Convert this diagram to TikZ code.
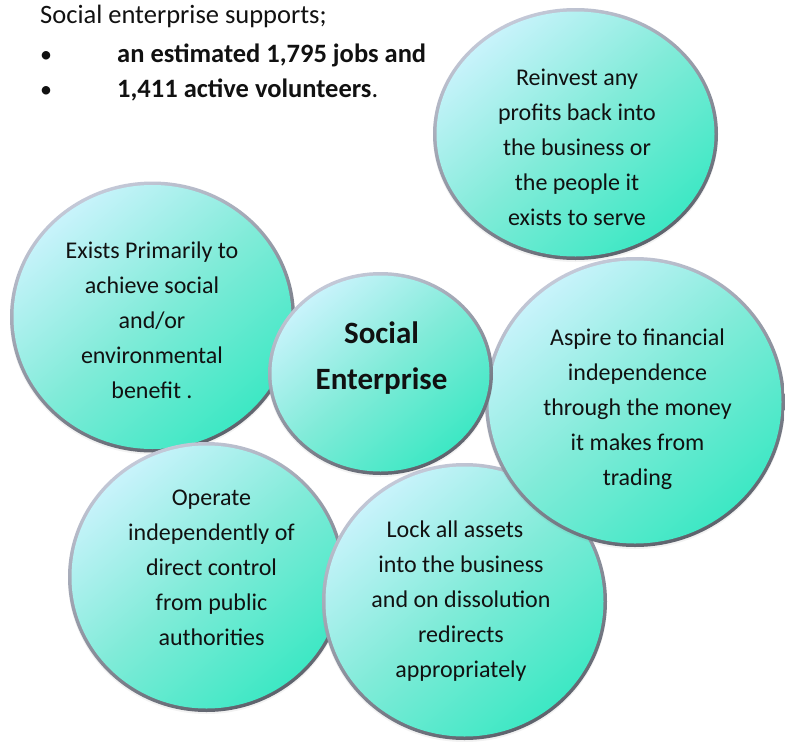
\documentclass[tikz,border=0pt]{standalone}
\usepackage{fontspec}
\setmainfont{Carlito}
\usetikzlibrary{shapes.geometric,shadows}
\definecolor{bubbleLight}{HTML}{C8F3FB}
\definecolor{bubbleMid}{HTML}{80EBD8}
\definecolor{bubbleDark}{HTML}{3DE8C4}
\definecolor{rimLight}{HTML}{C4C9D8}
\definecolor{rimDark}{HTML}{5E626C}
\definecolor{txt}{HTML}{111111}
\tikzset{
  rim/.style={ellipse, inner sep=0pt, top color=rimLight, bottom color=rimDark, shading angle=25,
    drop shadow={opacity=0.10, shadow xshift=0pt, shadow yshift=-2pt}},
  bubble/.style={ellipse, inner sep=0pt, top color=bubbleLight, bottom color=bubbleDark, middle color=bubbleMid, shading angle=40},
  bubbletext/.style={font=\fontsize{24}{35}\selectfont, align=center, anchor=base, text=txt, inner sep=0pt},
  headtext/.style={font=\fontsize{26.5}{37}\selectfont, anchor=base west, text=txt, inner sep=0pt},
}
\newcommand\bubbleat[5]{%
  \node[rim, minimum width=2*#4, minimum height=2*#5] (#1rim) at (#2,#3) {};
  \node[bubble, minimum width=2*#4-7, minimum height=2*#5-7] (#1) at (#2,#3) {};
}
\begin{document}
\begin{tikzpicture}[x=1pt,y=-1pt]
\useasboundingbox[fill=white] (0,0) rectangle (785,742);
% header
\node[headtext] (hd) at (40,23) {Social enterprise supports;};
\node[headtext, anchor=base, font=\fontsize{24}{37}\selectfont] (b1) at (46,62) {•};
\node[headtext, font=\fontsize{26.5}{37}\selectfont\bfseries] (l1) at (117,62) {an estimated 1,795 jobs and};
\node[headtext, anchor=base, font=\fontsize{24}{37}\selectfont] (b2) at (46,97) {•};
\node[headtext] (l2) at (117,97) {\textbf{1,411 active volunteers}.};
% bubbles
\bubbleat{ex}{152.5}{317}{142.5}{135.5}
\bubbleat{op}{206.5}{577}{138.5}{135}
\bubbleat{lk}{464.5}{601.5}{142.5}{138.5}
\bubbleat{re}{575.5}{134}{142.5}{126}
\bubbleat{as}{635}{402}{150}{145}
\bubbleat{se}{380.5}{373.5}{112.5}{101.5}
% texts (anchor = baseline of last line)
\node[bubbletext] (tre) at (577,225) {Reinvest any\\profits back into\\the business or\\the people it\\exists to serve};
\node[bubbletext] (tex) at (152,398) {Exists Primarily to\\achieve social\\and/or\\environmental\\benefit .};
\node[bubbletext, font=\fontsize{31}{46}\selectfont\bfseries] (tse) at (381.5,389) {Social\\Enterprise};
\node[bubbletext] (tas) at (637.5,485) {Aspire to financial\\independence\\through the money\\it makes from\\trading};
\node[bubbletext] (top) at (211.5,645) {Operate\\independently of\\direct control\\from public\\authorities};
\node[bubbletext] (tlk) at (461,677) {Lock all assets\kern0.5em\\into the business\\and on dissolution\\redirects\\appropriately};
\end{tikzpicture}
\end{document}
